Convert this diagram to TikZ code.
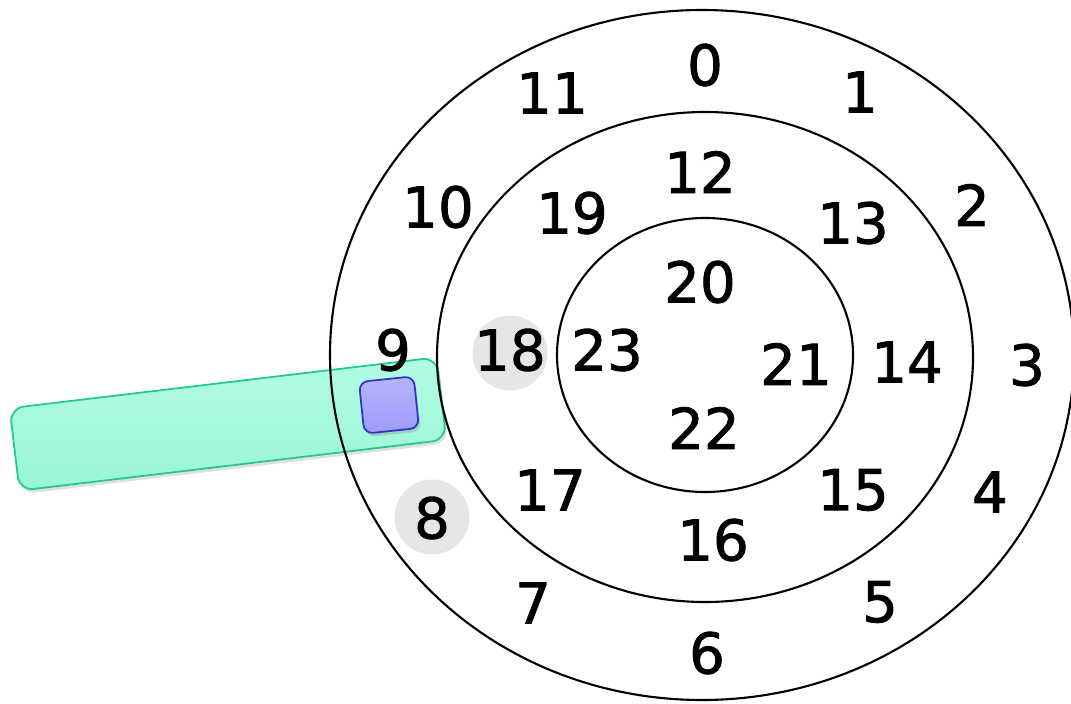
\documentclass[tikz,border=0pt]{standalone}
\usepackage{fontspec}
\setsansfont{DejaVu Sans}[BoldFont=DejaVu Sans,BoldFeatures={FakeBold=1.5}]
\usetikzlibrary{shadows}

\definecolor{armfill}{HTML}{A0FBDA}
\definecolor{armline}{HTML}{22C893}
\definecolor{headfill}{HTML}{9C9CFA}
\definecolor{headline}{HTML}{3434C4}
\definecolor{spot}{HTML}{E6E6E6}

\begin{document}
\begin{tikzpicture}[
  x=0.02cm,y=-0.02cm,
  font=\sffamily\bfseries\fontsize{32}{36}\selectfont,
  track/.style={draw=black,line width=1.2pt},
  sector/.style={inner sep=0pt,text=black},
  hit/.style={circle,fill=spot,minimum size=1.5cm,inner sep=0pt},
  arm/.style={draw=armline,line width=1pt,rounded corners=8pt,top color=armfill!80!white,bottom color=armfill!90!armline!95,
    minimum width=8.6cm,minimum height=1.66cm,rotate=6.8,
    drop shadow={shadow xshift=1pt,shadow yshift=-2pt,opacity=.25}},
  head/.style={draw=headline,line width=1pt,rounded corners=5pt,top color=headfill!75!white,bottom color=headfill,
    minimum width=1.1cm,minimum height=1.04cm,rotate=6,
    drop shadow={shadow xshift=1pt,shadow yshift=-2pt,opacity=.3}}
]
  \useasboundingbox (0,0) rectangle (1071,703);

  % highlighted sectors
  \node[hit] (h18) at (510,353) {};
  \node[hit] (h8) at (432,517) {};

  % arm and read/write head
  \node[arm] (arm) at (228,424) {};
  \node[head] (rw) at (389,405) {};

  % tracks
  \draw[track] (702,355) ellipse (372 and 345);
  \draw[track] (705,357) ellipse (268 and 245);
  \draw[track] (705,355) ellipse (148 and 137);

  % outer track
  \node[sector] (s0) at (705,65) {0};
  \node[sector] (s1) at (860,92) {1};
  \node[sector] (s2) at (972,205) {2};
  \node[sector] (s3) at (1027,365) {3};
  \node[sector] (s4) at (990,492) {4};
  \node[sector] (s5) at (880,602) {5};
  \node[sector] (s6) at (707,653) {6};
  \node[sector] (s7) at (533,603) {7};
  \node[sector] (s8) at (432,518) {8};
  \node[sector] (s9) at (393,350) {9};
  \node[sector] (s10) at (438,207) {10};
  \node[sector] (s11) at (552,93) {11};

  % middle track
  \node[sector] (s12) at (700,172) {12};
  \node[sector] (s13) at (853,223) {13};
  \node[sector] (s14) at (907,362) {14};
  \node[sector] (s15) at (853,490) {15};
  \node[sector] (s16) at (713,540) {16};
  \node[sector] (s17) at (550,490) {17};
  \node[sector] (s18) at (510,350) {18};
  \node[sector] (s19) at (572,213) {19};

  % inner track
  \node[sector] (s20) at (700,282) {20};
  \node[sector] (s21) at (796,364) {21};
  \node[sector] (s22) at (704,428) {22};
  \node[sector] (s23) at (607,350) {23};
\end{tikzpicture}
\end{document}
